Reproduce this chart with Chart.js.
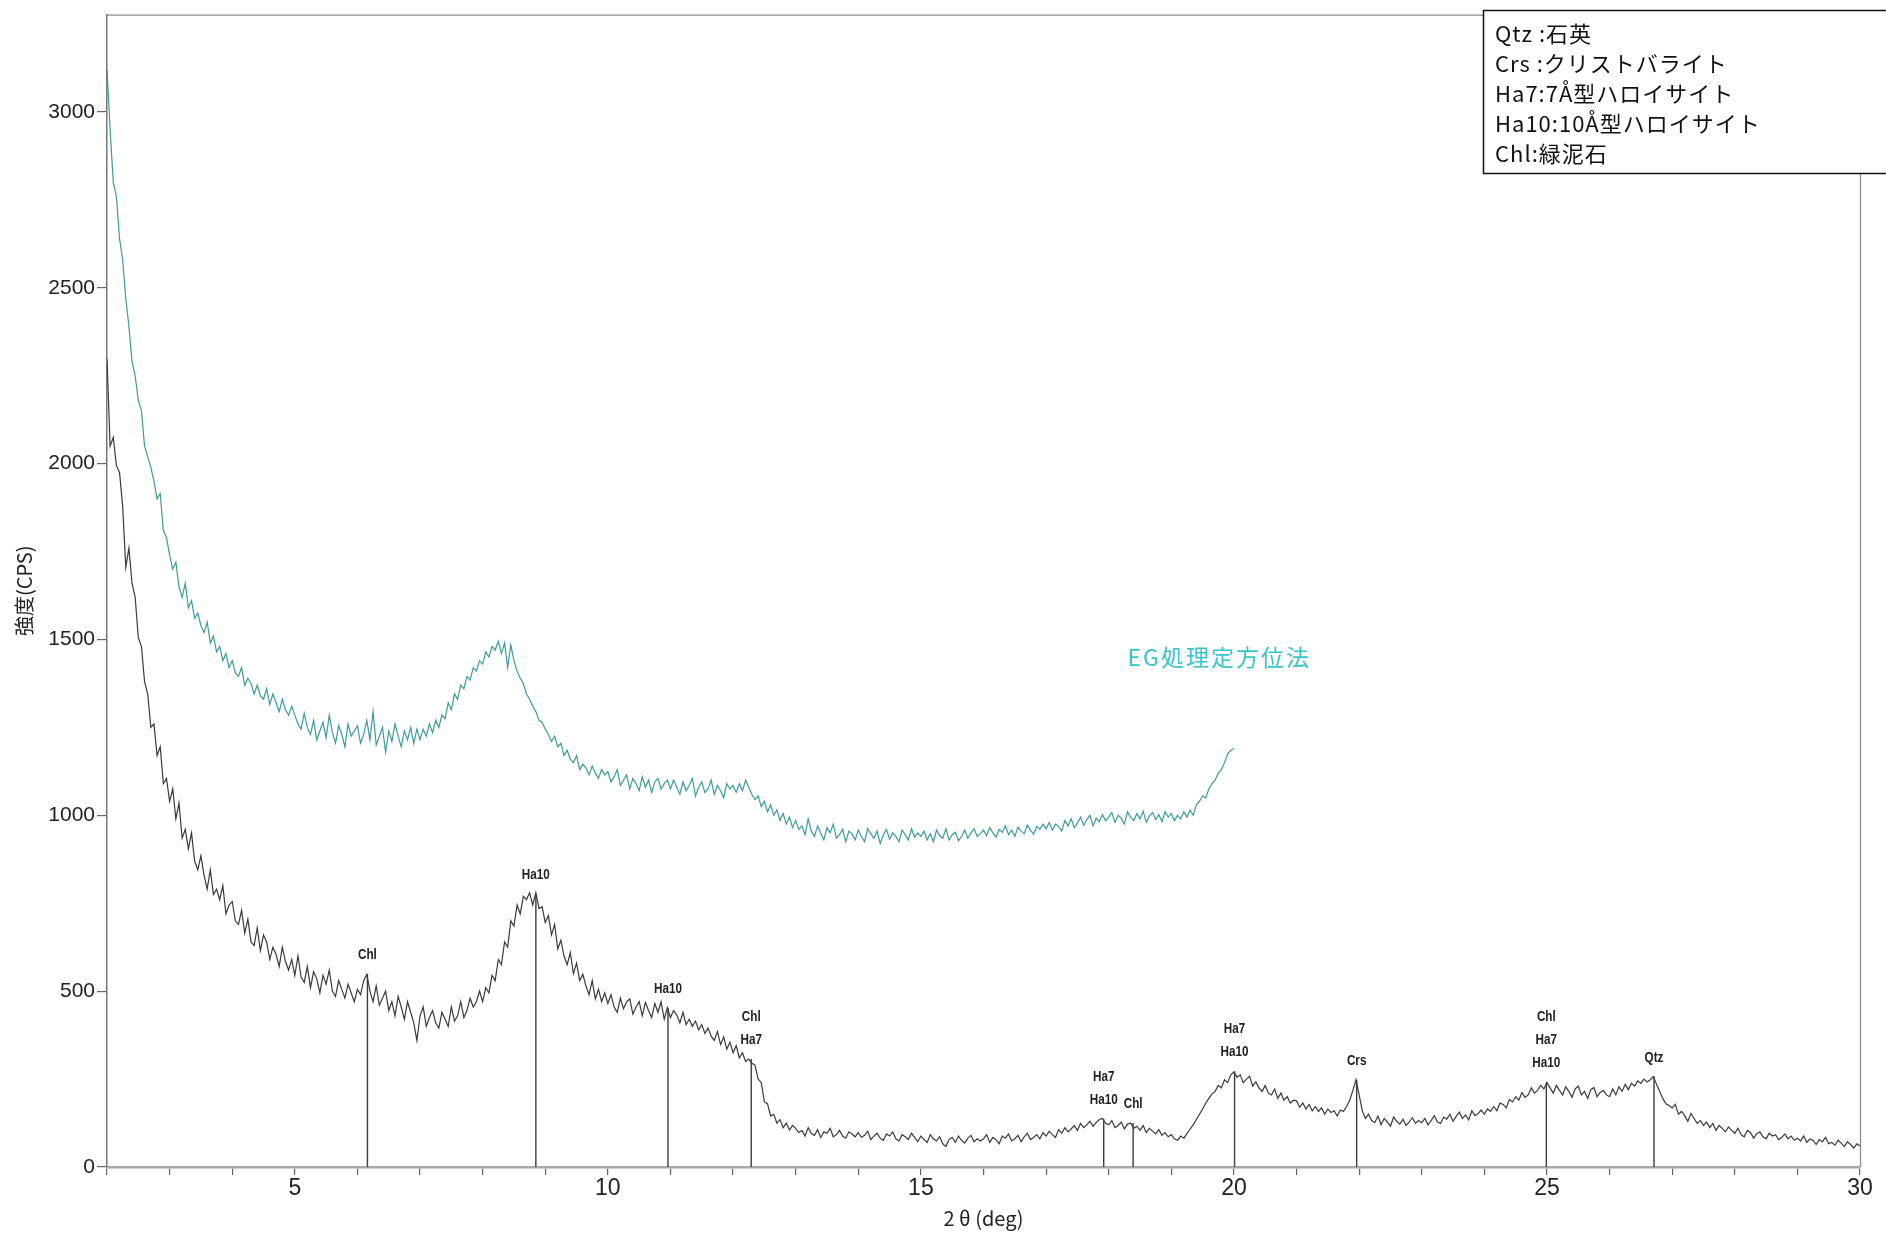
<!DOCTYPE html>
<html lang="ja">
<head>
<meta charset="utf-8">
<title>XRD EG処理定方位法</title>
<script src="https://cdn.jsdelivr.net/npm/chart.js@4.4.1/dist/chart.umd.min.js"></script>
<style>
  html, body { margin: 0; padding: 0; background: #fff; }
  #wrap { width: 1886px; height: 1234px; }
</style>
</head>
<body>
<div id="wrap"><canvas id="xrdChart" width="1886" height="1234"></canvas></div>
<script>
// ---- data ----
// sampling grid of the traces: 2θ from 2.00 deg in 0.05 deg steps
const startAngle = 2;
const angleStep = 0.05;

// untreated oriented sample (black trace), 2.00 .. 30.00 deg
const rawCps = [
  // 2
  2298, 2050, 2075, 1995, 1975, 1880, 1705, 1760, 1660, 1620, 1505, 1480, 1380, 1345, 1250, 1260, 1170, 1195, 1090, 1105,
  // 3
  1040, 1075, 990, 1035, 935, 960, 905, 950, 870, 845, 885, 830, 790, 845, 775, 790, 760, 800, 720, 745,
  // 4
  755, 700, 690, 730, 665, 705, 640, 630, 680, 615, 660, 640, 590, 625, 605, 570, 625, 585, 560, 590,
  // 5
  545, 600, 540, 525, 570, 510, 555, 535, 495, 545, 520, 560, 500, 485, 530, 505, 480, 520, 495, 470,
  // 6
  505, 490, 530, 548, 500, 470, 515, 460, 480, 500, 445, 470, 430, 485, 455, 420, 470, 440, 410, 360,
  // 7
  430, 455, 400, 425, 445, 410, 395, 440, 420, 400, 455, 415, 430, 470, 425, 445, 480, 455, 470, 500,
  // 8
  470, 510, 495, 545, 530, 590, 575, 640, 625, 700, 685, 745, 720, 770, 760, 780, 745, 780, 735, 740,
  // 9
  695, 715, 660, 690, 620, 645, 600, 575, 610, 550, 580, 530, 548, 515, 490, 530, 478, 505, 470, 495,
  // 10
  465, 490, 455, 440, 480, 450, 470, 478, 435, 455, 470, 430, 468, 445, 425, 465, 440, 470, 420, 453,
  // 11
  425, 445, 432, 410, 440, 405, 420, 400, 415, 390, 405, 380, 395, 372, 360, 385, 348, 370, 335, 355,
  // 12
  325, 345, 310, 325, 300, 307, 295, 290, 250, 240, 185, 180, 145, 150, 125, 135, 112, 125, 105, 118,
  // 13
  110, 98, 104, 88, 112, 95, 90, 106, 84, 100, 96, 110, 86, 92, 104, 88, 82, 100, 94, 86,
  // 14
  98, 84, 90, 102, 78, 88, 96, 82, 76, 94, 88, 100, 80, 74, 92, 86, 78, 96, 84, 72,
  // 15
  88, 78, 70, 92, 80, 74, 86, 66, 58, 78, 84, 70, 88, 76, 68, 82, 90, 72, 80, 74,
  // 16
  80, 92, 70, 84, 78, 66, 88, 82, 94, 74, 80, 90, 72, 86, 96, 78, 84, 92, 80, 98,
  // 17
  88, 102, 92, 84, 106, 96, 112, 100, 108, 118, 104, 124, 112, 120, 130, 116, 126, 135, 138, 124,
  // 18
  120, 132, 112, 118, 128, 108, 122, 125, 110, 116, 104, 118, 98, 110, 102, 94, 106, 90, 98, 86,
  // 19
  92, 80, 76, 88, 82, 95, 108, 120, 135, 150, 165, 182, 195, 208, 215, 232, 225, 248, 240, 262,
  // 20
  270, 255, 262, 240, 250, 258, 230, 242, 225, 215, 232, 210, 205, 222, 195, 210, 190, 200, 182, 190,
  // 21
  188, 170, 182, 165, 178, 160, 172, 158, 168, 150, 165, 155, 160, 145, 162, 158, 172, 190, 218, 248,
  // 22
  205, 160, 138, 150, 132, 126, 145, 120, 138, 128, 116, 142, 130, 122, 136, 118, 128, 140, 124, 132,
  // 23
  126, 138, 120, 132, 146, 128, 124, 142, 136, 150, 130, 144, 156, 138, 148, 134, 160, 146, 152, 162,
  // 24
  150, 165, 158, 172, 160, 182, 178, 168, 192, 185, 200, 190, 212, 198, 205, 225, 210, 218, 232, 222,
  // 25
  240, 225, 210, 232, 218, 205, 228, 215, 198, 222, 230, 205, 215, 195, 220, 226, 200, 212, 218, 205,
  // 26
  200, 222, 205, 228, 215, 235, 220, 238, 230, 245, 238, 250, 242, 248, 257, 235, 215, 195, 180, 175,
  // 27
  168, 178, 150, 158, 146, 130, 152, 138, 124, 132, 118, 128, 112, 124, 104, 118, 110, 100, 114, 104,
  // 28
  96, 110, 92, 86, 104, 98, 82, 94, 100, 86, 80, 96, 88, 92, 78, 84, 94, 80, 88, 76,
  // 29
  82, 74, 88, 70, 80, 76, 64, 78, 72, 84, 66, 70, 62, 76, 68, 58, 72, 64, 54, 66,
  // 30
  60
];

// EG treated oriented sample (teal trace), 2.00 .. 20.00 deg
const egCps = [
  // 2
  3120, 2950, 2800, 2760, 2640, 2580, 2470, 2390, 2290, 2250, 2180, 2150, 2050, 2020, 1990, 1950, 1900, 1915, 1810, 1790,
  // 3
  1740, 1700, 1720, 1650, 1620, 1660, 1590, 1610, 1560, 1575, 1540, 1520, 1550, 1490, 1510, 1465, 1480, 1440, 1460, 1420,
  // 4
  1440, 1405, 1395, 1420, 1370, 1390, 1375, 1345, 1370, 1340, 1330, 1360, 1315, 1345, 1320, 1295, 1330, 1300, 1285, 1310,
  // 5
  1285, 1260, 1245, 1290, 1250, 1230, 1270, 1215, 1240, 1265, 1220, 1285, 1235, 1205, 1255, 1230, 1195, 1260, 1225, 1240,
  // 6
  1255, 1205, 1230, 1270, 1215, 1295, 1200, 1225, 1250, 1180, 1240, 1210, 1260, 1225, 1195, 1240, 1215, 1250, 1205, 1245,
  // 7
  1215, 1245, 1225, 1260, 1235, 1270, 1250, 1285, 1275, 1320, 1300, 1345, 1330, 1370, 1360, 1395, 1385, 1420, 1410, 1440,
  // 8
  1430, 1465, 1450, 1480, 1470, 1495, 1460, 1490, 1420, 1485, 1440, 1410, 1390, 1375, 1345, 1330, 1310, 1295, 1270, 1265,
  // 9
  1245, 1230, 1210, 1225, 1195, 1205, 1170, 1185, 1160, 1150, 1170, 1130, 1145, 1135, 1115, 1140, 1120, 1105, 1130, 1115,
  // 10
  1125, 1095, 1110, 1130, 1085, 1100, 1115, 1075, 1105, 1090, 1070, 1110, 1080, 1100, 1065, 1095, 1105, 1075, 1090, 1100,
  // 11
  1075, 1100, 1080, 1060, 1095, 1070, 1085, 1105, 1055, 1080, 1095, 1065, 1075, 1100, 1060, 1085, 1070, 1050, 1090, 1075,
  // 12
  1085, 1065, 1090, 1070, 1100, 1080, 1060, 1045, 1055, 1025, 1040, 1010, 1030, 1000, 1015, 985, 1005, 975, 995, 965,
  // 13
  985, 960, 970, 945, 990, 955, 940, 970, 950, 930, 965, 950, 975, 935, 945, 960, 925, 955, 948, 930,
  // 14
  958, 940, 925, 962, 948, 935, 955, 920, 945, 960, 932, 950, 940, 925, 958, 945, 930, 962, 938, 950,
  // 15
  940, 955, 930, 948, 925, 958, 942, 935, 962, 930, 945, 952, 928, 940, 958, 935, 950, 962, 940, 948,
  // 16
  958, 942, 965, 950, 938, 960, 952, 970, 945, 958, 940, 966, 955, 948, 972, 958, 946, 968, 960, 975,
  // 17
  962, 980, 958, 975, 968, 955, 985, 970, 990, 965, 978, 995, 972, 988, 1000, 970, 992, 982, 1002, 985,
  // 18
  995, 1008, 980, 1000, 992, 975, 1010, 995, 985, 1005, 990, 1012, 980, 998, 1008, 988, 1002, 982, 1010, 995,
  // 19
  1005, 985, 1000, 990, 1010, 995, 1015, 1000, 1030, 1040, 1055, 1050, 1075, 1090, 1100, 1120, 1130, 1150, 1175, 1185,
  // 20
  1190
];

// identified peaks: position (deg), marker height (cps), labels top to bottom
const peakPos = [6.16, 8.85, 10.96, 12.29, 17.92, 18.39, 20.01, 21.96, 24.99, 26.71];
const peakTop = [548, 778, 453, 307, 137, 125, 272, 248, 241, 257];
const peakLabels = [
  ['Chl'], ['Ha10'], ['Ha10'], ['Chl', 'Ha7'], ['Ha7', 'Ha10'], ['Chl'],
  ['Ha7', 'Ha10'], ['Crs'], ['Chl', 'Ha7', 'Ha10'], ['Qtz']
];

// axes
const xTickValues = [2, 3, 4, 5, 6, 7, 8, 9, 10, 11, 12, 13, 14, 15, 16, 17, 18, 19, 20,
  21, 22, 23, 24, 25, 26, 27, 28, 29, 30];
const xLabelled = [5, 10, 15, 20, 25, 30];
const yTickValues = [0, 500, 1000, 1500, 2000, 2500, 3000];

const mineralKey = [
  'Qtz :石英',
  'Crs :クリストバライト',
  'Ha7:7Å型ハロイサイト',
  'Ha10:10Å型ハロイサイト',
  'Chl:緑泥石'
];
const egTitle = 'EG処理定方位法';

// ---- build datasets ----
function toPoints(values) {
  return values.map((v, i) => ({ x: +(startAngle + i * angleStep).toFixed(2), y: v }));
}

const datasets = [
  {
    label: 'EG',
    data: toPoints(egCps),
    borderColor: '#3d9a9c',
    borderWidth: 1.2,
    pointRadius: 0,
    tension: 0
  },
  {
    label: 'raw',
    data: toPoints(rawCps),
    borderColor: '#3a3a3a',
    borderWidth: 1.2,
    pointRadius: 0,
    tension: 0
  }
];

peakPos.forEach((p, i) => {
  datasets.push({
    label: 'peak' + i,
    data: [{ x: p, y: 0 }, { x: p, y: peakTop[i] }],
    borderColor: '#3c3c3c',
    borderWidth: 1.4,
    pointRadius: 0
  });
});

/* ===========================================================
   OVERLAY: frame, peak labels, sample title, key box
=========================================================== */
const overlay = {
  id: 'overlay',
  beforeDatasetsDraw(chart) {
    const { ctx, chartArea: a } = chart;
    ctx.save();
    ctx.strokeStyle = '#8a8a8a';
    ctx.lineWidth = 1.2;
    ctx.beginPath();
    ctx.moveTo(a.left, a.top + 0.5);
    ctx.lineTo(a.right, a.top + 0.5);
    ctx.moveTo(a.right + 0.5, a.top);
    ctx.lineTo(a.right + 0.5, a.bottom);
    ctx.stroke();
    ctx.restore();
  },
  afterDatasetsDraw(chart) {
    const { ctx, scales: { x, y } } = chart;
    ctx.save();

    // peak labels (condensed look of the original plotter font)
    ctx.fillStyle = '#222';
    ctx.font = "bold 15px 'Liberation Sans', sans-serif";
    ctx.textAlign = 'center';
    ctx.textBaseline = 'middle';
    peakPos.forEach((p, i) => {
      const px = x.getPixelForValue(p);
      const base = y.getPixelForValue(peakTop[i]) - 19;
      const lines = peakLabels[i];
      lines.forEach((t, k) => {
        ctx.save();
        ctx.translate(px, base - (lines.length - 1 - k) * 23);
        ctx.scale(0.78, 1);
        ctx.fillText(t, 0, 0);
        ctx.restore();
      });
    });

    // sample title next to the EG trace
    ctx.fillStyle = '#36c5c8';
    ctx.font = "23px 'Noto Sans CJK JP', sans-serif";
    ctx.textAlign = 'left';
    ctx.letterSpacing = '2px';
    ctx.fillText(egTitle, x.getPixelForValue(18.3), y.getPixelForValue(1450));
    ctx.letterSpacing = '0px';

    // mineral key box (top right, runs off the canvas)
    ctx.fillStyle = '#fff';
    ctx.fillRect(1483, 10, 420, 164);
    ctx.strokeStyle = '#111';
    ctx.lineWidth = 1.5;
    ctx.strokeRect(1483.5, 10.5, 420, 163);
    ctx.fillStyle = '#111';
    ctx.font = "22px 'Noto Sans CJK JP', sans-serif";
    ctx.letterSpacing = '1px';
    ctx.textBaseline = 'middle';
    mineralKey.forEach((t, i) => {
      ctx.fillText(t, 1495, 34 + i * 30);
    });
    ctx.restore();
  }
};

new Chart(document.getElementById('xrdChart'), {
  type: 'line',
  data: { datasets },
  options: {
    responsive: false,
    animation: false,
    events: [],
    layout: { padding: { top: 9, right: 26, left: 0, bottom: 0 } },
    plugins: { legend: { display: false }, tooltip: { enabled: false } },
    scales: {
      x: {
        type: 'linear',
        min: 2,
        max: 30,
        afterFit(scale) { scale.height = 67; },
        afterBuildTicks(scale) { scale.ticks = xTickValues.map(v => ({ value: v })); },
        grid: { drawOnChartArea: false, drawTicks: true, tickLength: 8, color: '#666', lineWidth: 1.2 },
        border: { color: '#a8a8a8', width: 2.5 },
        ticks: {
          autoSkip: false,
          maxRotation: 0,
          padding: 0,
          color: '#222',
          font: { family: "'Liberation Sans', sans-serif", size: 23 },
          callback: v => xLabelled.includes(v) ? String(v) : ''
        },
        title: {
          display: true,
          text: '2 θ (deg)',
          color: '#222',
          font: { family: "'Noto Sans CJK JP', sans-serif", size: 20 },
          padding: { top: 0, bottom: 4 }
        }
      },
      y: {
        type: 'linear',
        min: 0,
        max: 3277,
        afterFit(scale) { scale.width = 107; },
        afterBuildTicks(scale) { scale.ticks = yTickValues.map(v => ({ value: v })); },
        grid: { drawOnChartArea: false, drawTicks: true, tickLength: 10, color: '#666', lineWidth: 1.2 },
        border: { color: '#777', width: 1.5 },
        ticks: {
          padding: 2,
          color: '#222',
          font: { family: "'Liberation Sans', sans-serif", size: 21 },
          callback: v => String(v)
        },
        title: {
          display: true,
          text: '強度(CPS)',
          color: '#222',
          font: { family: "'Noto Sans CJK JP', sans-serif", size: 20 },
          padding: { top: 12, bottom: 0 }
        }
      }
    }
  },
  plugins: [overlay]
});
</script>
</body>
</html>
